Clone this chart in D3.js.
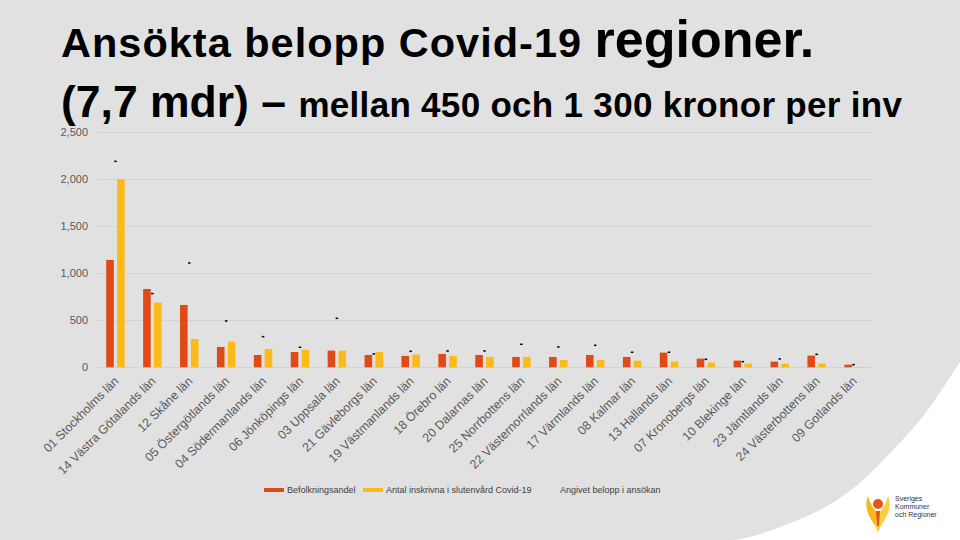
<!DOCTYPE html>
<html>
<head>
<meta charset="utf-8">
<script src="https://cdn.jsdelivr.net/npm/d3@7"></script>
<style>
  html, body { margin: 0; padding: 0; background: #ffffff; }
  svg { display: block; font-family: "Liberation Sans", Arial, sans-serif; }
</style>
</head>
<body>
<svg id="chart" width="960" height="540"></svg>
<script>
const categories = [
  "01 Stockholms län", "14 Västra Götalands län", "12 Skåne län", "05 Östergötlands län",
  "04 Södermanlands län", "06 Jönköpings län", "03 Uppsala län", "21 Gävleborgs län",
  "19 Västmanlands län", "18 Örebro län", "20 Dalarnas län", "25 Norrbottens län",
  "22 Västernorrlands län", "17 Värmlands län", "08 Kalmar län", "13 Hallands län",
  "07 Kronobergs län", "10 Blekinge län", "23 Jämtlands län", "24 Västerbottens län",
  "09 Gotlands län"
];
const befolkningsandel = [1142, 833, 663, 216, 131, 163, 177, 131, 121, 142, 131, 110, 110, 131, 110, 156, 92, 71, 60, 124, 28];
const inskrivna = [2000, 688, 301, 273, 195, 188, 177, 163, 135, 121, 110, 110, 78, 78, 70, 60, 50, 39, 39, 39, 3];
const angivetBelopp = [2191, 784, 1110, 493, 326, 213, 521, 142, 170, 174, 174, 245, 216, 234, 160, 160, 85, 60, 89, 138, 28];
const yTicks = [0, 500, 1000, 1500, 2000, 2500];
const seriesNames = ["Befolkningsandel", "Antal inskrivna i slutenvård Covid-19", "Angivet belopp i ansökan"];

const colOrange = "#e04a16";
const colYellow = "#fbba18";
const bg = "#e1e1e1";

const svg = d3.select("#chart");

// background: gray slide with white lower-right corner
svg.append("rect").attr("width", 960).attr("height", 540).attr("fill", bg);
const corner = [[960, 362], [935, 400], [920, 420], [893, 450], [855, 487], [820, 510], [780, 527], [750, 537], [725, 541]];
svg.append("path")
  .attr("d", d3.line().curve(d3.curveCatmullRom)(corner) + "L960,541Z")
  .attr("fill", "#ffffff");

// title
const title = svg.append("text").attr("fill", "#000").attr("font-weight", "bold");
const t1 = title.append("tspan").attr("x", 61).attr("y", 57);
t1.append("tspan").attr("font-size", 41.5).attr("letter-spacing", 1).text("Ansökta belopp Covid-19 ");
t1.append("tspan").attr("font-size", 52).attr("letter-spacing", 0).text("regioner.");
const title2 = svg.append("text").attr("fill", "#000").attr("font-weight", "bold").attr("x", 61).attr("y", 117);
title2.append("tspan").attr("font-size", 44.5).text("(7,7 mdr) – ");
title2.append("tspan").attr("font-size", 35).attr("letter-spacing", 0.3).text("mellan 450 och 1 300 kronor per inv");

// scales
const x = d3.scaleBand().domain(categories).range([97, 872]);
const xs = d3.scaleBand().domain(["a", "b"]).range([x.bandwidth() * 0.25, x.bandwidth() * 0.75]).paddingInner(0.3);
const y = d3.scaleLinear().domain([0, 2500]).range([367.3, 132.3]);

// gridlines
svg.append("g").selectAll("line").data(yTicks).join("line")
  .attr("x1", 97).attr("x2", 872)
  .attr("y1", d => Math.round(y(d)) + 0.5).attr("y2", d => Math.round(y(d)) + 0.5)
  .attr("stroke", "#d3d3d3").attr("stroke-width", 1);

// y axis
const yAxis = svg.append("g").attr("transform", "translate(97,0)")
  .call(d3.axisLeft(y).tickValues(yTicks).tickFormat(d3.format(",")).tickSize(0).tickPadding(9));
yAxis.select(".domain").remove();
yAxis.selectAll("text").attr("font-size", 11).attr("fill", "#595959")
  .attr("font-family", "\"Liberation Sans\", Arial, sans-serif");

// bars
const groups = svg.append("g").selectAll("g").data(categories).join("g")
  .attr("transform", d => `translate(${x(d)},0)`);
groups.append("rect")
  .attr("x", xs("a")).attr("width", xs.bandwidth())
  .attr("y", (d, i) => y(befolkningsandel[i]))
  .attr("height", (d, i) => y(0) - y(befolkningsandel[i]))
  .attr("fill", colOrange);
groups.append("rect")
  .attr("x", xs("b")).attr("width", xs.bandwidth())
  .attr("y", (d, i) => y(inskrivna[i]))
  .attr("height", (d, i) => y(0) - y(inskrivna[i]))
  .attr("fill", colYellow);

// markers for amount applied
groups.append("rect")
  .attr("x", x.bandwidth() / 2 - 1.25).attr("width", 2.5)
  .attr("y", (d, i) => y(angivetBelopp[i]) - 0.75).attr("height", 1.5)
  .attr("fill", "#000");

// x labels
svg.append("g").selectAll("text").data(categories).join("text")
  .attr("transform", d => `translate(${x(d) + x.bandwidth() / 2 + 4},382) rotate(-45)`)
  .attr("text-anchor", "end")
  .attr("font-size", 12.3)
  .attr("fill", "#595959")
  .text(d => d);

// legend
const legend = svg.append("g").attr("font-size", 9).attr("fill", "#404040");
const legX = [264, 363, 560];
const legCols = [colOrange, colYellow, null];
seriesNames.forEach((name, i) => {
  if (legCols[i]) {
    legend.append("line").attr("x1", legX[i]).attr("x2", legX[i] + 20)
      .attr("y1", 490).attr("y2", 490).attr("stroke", legCols[i]).attr("stroke-width", 4);
    legend.append("text").attr("x", legX[i] + 23).attr("y", 493).text(name);
  } else {
    legend.append("text").attr("x", legX[i]).attr("y", 493).text(name);
  }
});

// logo (decorative)
const logo = svg.append("g").attr("transform", "translate(864,494)");
logo.append("path").attr("d", "M4,2 C0,12 4,22 10,30 C12,33 14,36 13,38 C18,34 18,26 14,20 C10,15 6,10 4,2Z").attr("fill", "#f7b81a");
logo.append("path").attr("d", "M24,2 C28,12 24,22 18,30 C16,33 14,36 15,38 C10,34 10,26 14,20 C18,15 22,10 24,2Z").attr("fill", "#fbcf45");
logo.append("circle").attr("cx", 14).attr("cy", 10).attr("r", 5).attr("fill", "#e0571c");
logo.append("path").attr("d", "M12,17 L16,17 L15,32 L13,32Z").attr("fill", "#e0571c");
const lt = svg.append("g").attr("font-size", 7).attr("fill", "#333");
lt.append("text").attr("x", 895).attr("y", 501).text("Sveriges");
lt.append("text").attr("x", 895).attr("y", 509).text("Kommuner");
lt.append("text").attr("x", 895).attr("y", 517).text("och Regioner");
</script>
</body>
</html>
